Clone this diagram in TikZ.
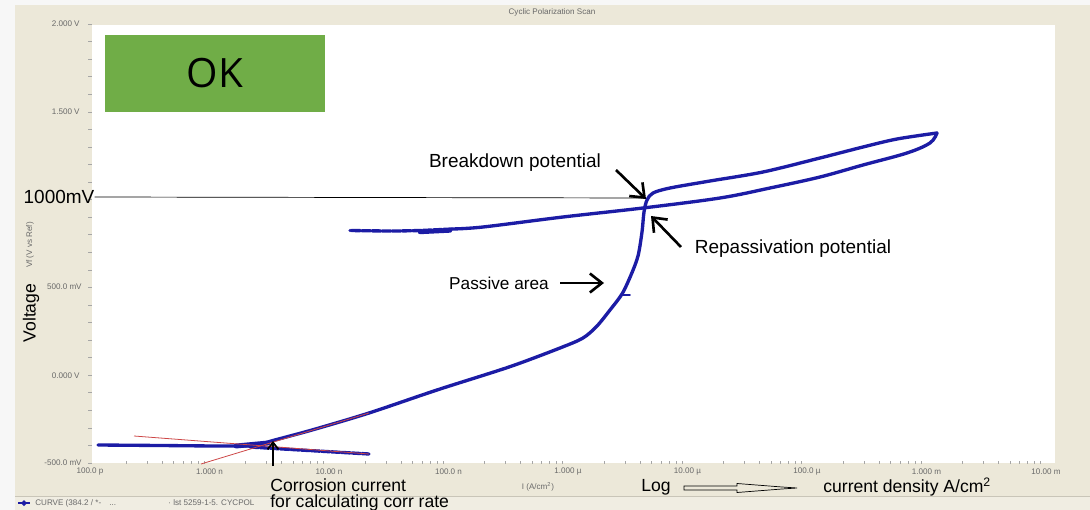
\documentclass[tikz,border=0pt]{standalone}
\usepackage{fontspec}
\setmainfont{Liberation Sans}
\newfontfamily\okfont{Open Sans}
\usetikzlibrary{arrows.meta}

\definecolor{panel}{RGB}{236,232,217}
\definecolor{legendbg}{RGB}{240,237,226}
\definecolor{curveblue}{RGB}{28,28,165}
\definecolor{tafelred}{RGB}{205,70,70}
\definecolor{okgreen}{RGB}{112,173,71}
\definecolor{ticklabel}{RGB}{105,105,105}

\begin{document}
\begin{tikzpicture}[
		x=0.02cm, y=-0.02cm,
		ticklbl/.style ={
			font=\fontsize{4.6}{5}\selectfont,	text=ticklabel,	inner sep=0pt
		},
		note/.style ={
			font=\fontsize{10.8}{12}\selectfont,	inner sep=0pt
		},
		callout/.style ={
			draw=black,	line width=1.5pt,	-{Straight Barb[length=2.4mm, width=3.8mm]}
		},
		scan/.style ={
			draw=curveblue,	line width=1.9pt,	line join=round,	line cap=round
		},
		tafel/.style ={
			draw=tafelred,	line width=0.45pt
		},
		tickmark/.style ={
			draw=gray!70,	line width=0.3pt
		},
	]

	\newcommand{\xorg}{90}
	\newcommand{\xdec}{119.5}
	\newcommand{\ytop}{24}
	\newcommand{\ystep}{17.56}

	\useasboundingbox (0,0) rectangle (1090,510);

	% window
	\fill [gray!6] (0,0) rectangle (1090,510);
	\fill [panel] (15,5) rectangle (1090,510);
	\fill [white] (92,25) rectangle (1055,463);
	\fill [legendbg] (15,497) rectangle (1090,510);
	\draw [panel!85!black, line width=0.3pt] (15,496.5) -- (1090,496.5);

	% axes
	\node (title) at (552,12) [ticklbl] {Cyclic Polarization Scan};
	\foreach \k in {0,...,25}
		\draw [tickmark] (88,\ytop+\ystep*\k) -- (92,\ytop+\ystep*\k);
	\foreach \d in {0,...,7}
		\foreach \m in {2,...,9}
			\draw [tickmark] ({\xorg+\xdec*(\d+ln(\m)/ln(10))},461) -- ++(0,3);

	\node (ylbl0) at (80,24)  [ticklbl, anchor=east] {2.000 V};
	\node (ylbl1) at (80,112) [ticklbl, anchor=east] {1.500 V};
	\node (ylbl3) at (82,287) [ticklbl, anchor=east] {500.0 mV};
	\node (ylbl4) at (80,376) [ticklbl, anchor=east] {0.000 V};
	\node (ylbl5) at (82,463) [ticklbl, anchor=east] {-500.0 mV};
	\node (yname) at (30,245) [ticklbl, rotate=90] {Vf (V vs Ref)};

	\foreach \lbl [count=\k from 0] in {100.0 p, 1.000 n, 10.00 n, 100.0 n, 1.000 µ, 10.00 µ, 100.0 µ, 1.000 m, 10.00 m}
		\node (xlbl\k) at (\xorg+\xdec*\k, 472) [ticklbl] {\lbl};
	\node (xname) at (538,487) [ticklbl] {I (A/cm\textsuperscript{2})};

	% legend
	\coordinate (legmark) at (24,503);
	\draw [curveblue, line width=0.8pt] (legmark) ++(-6,0) -- ++(12,0);
	\fill [curveblue] (legmark) ++(0,-3) -- ++(3,3) -- ++(-3,3) -- ++(-3,-3) -- cycle;
	\node (legcurve) at (35,503) [ticklbl, anchor=west] {CURVE (384.2 / *-\quad ...};
	\node (legfile) at (168,503) [ticklbl, anchor=west] {· lst 5259-1-5. CYCPOL};

	% scan
	\draw [scan] plot [smooth, tension=0.5] coordinates {
		(98,445) (160,445.5) (220,446) (255,445.5) (273,440.5) (312,430) (369,413)
		(437,390) (509,367) (560,348) (583,338) (597,326) (610,310) (622,294)
		(631,275) (638,256) (642,232) (644,212) (647,200) (653,193) (670,188)
		(710,181) (763,172) (820,158) (863,147) (897,139) (937,133)};
	\draw [scan] plot [smooth, tension=0.55] coordinates {
		(937,133) (930,143) (907,153) (863,165) (820,177) (770,188) (720,198)
		(643,208) (563,217) (483,227) (452,229)};
	\draw [scan, dash pattern=on 5pt off 0.8pt] plot [smooth] coordinates {
		(452,229) (420,230.5) (390,231) (350,230.5)};
	\draw [scan, line width=2.5pt] (420,232) -- (450,230.5);
	\draw [scan, dash pattern=on 5pt off 0.8pt] plot [smooth] coordinates {
		(250,447) (300,450) (369,454)};
	\draw [scan, line width=2.8pt] (236,446) -- (268,443);
	\draw [scan, line width=1pt] (621,295) -- (630,295);

	% tafel fits
	\draw [tafel] (134,436) -- (369,454);
	\draw [tafel] (201,464) -- (369,413);

	% OK box
	\node (okbox) at (215,73.5) [fill=okgreen, minimum width=4.4cm, minimum height=1.54cm,
		inner sep=0pt, font=\okfont\fontsize{23}{26}\selectfont] {OK};

	% notes
	\node (mvnote) at (59,197) [note] {1000mV};
	\node (voltage) at (31,313) [note, rotate=90, font=\fontsize{10}{12}\selectfont] {Voltage};
	\node (breakdown) at (515,163) [note] {Breakdown potential};
	\node (repass) at (793,249) [note] {Repassivation potential};
	\node (passive) at (499,283) [note, font=\fontsize{9.8}{12}\selectfont] {Passive area};
	\node (corrosion) at (270,495) [note, anchor=west, align=left,
		font=\fontsize{10}{9.1}\selectfont] {Corrosion current\\for calculating corr rate};
	\node (lognote) at (641,487) [note, font=\fontsize{10}{12}\selectfont, anchor=west] {Log};
	\node (density) at (823,487) [note, font=\fontsize{10}{12}\selectfont, anchor=west] {current density A/cm\textsuperscript{2}};

	% callouts
	\coordinate (bdpoint) at (645,198);
	\draw [black, line width=0.4pt] (mvnote.east) -- (bdpoint);

	\coordinate (bdtail) at (616,170);	\coordinate (bdtip) at (646,199);
	\draw [callout] (bdtail) -- (bdtip);
	\coordinate (rptail) at (681,247);	\coordinate (rptip) at (651,216);
	\draw [callout] (rptail) -- (rptip);
	\coordinate (patail) at (560,283);	\coordinate (patip) at (604,283);
	\draw [callout] (patail) -- (patip);
	\coordinate (ictail) at (273,466);	\coordinate (ictip) at (273,441);
	\draw [callout, line width=1pt, -{Straight Barb[length=1.4mm, width=2.2mm]}] (ictail) -- (ictip);

	\coordinate (logtail) at (684,488);
	\draw [black, line width=0.4pt] (logtail) ++(0,-2) -- ++(53,0) -- ++(0,-2.5) -- ++(45,3.5)
		-- ++(15,1) -- ++(-15,1) -- ++(-45,3.5) -- ++(0,-2.5) -- ++(-53,0) -- cycle;

\end{tikzpicture}
\end{document}
